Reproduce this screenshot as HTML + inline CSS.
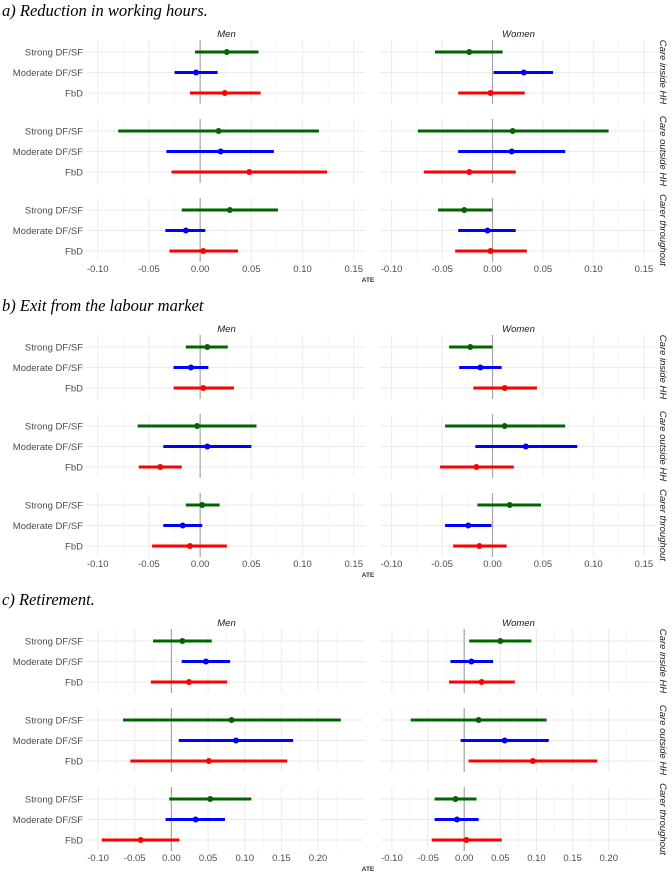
<!DOCTYPE html>
<html><head><meta charset="utf-8">
<style>
html,body{margin:0;padding:0;background:#fff;}
svg text{font-family:"Liberation Sans",sans-serif;}
</style></head>
<body>
<svg id="chart" width="672" height="873" viewBox="0 0 672 873" xmlns="http://www.w3.org/2000/svg"></svg>
<script>
// Data: each panel -> [Men, Women] -> 3 rows (care inside, care outside, carer throughout) -> [Strong, Moderate, FbD]
const categories = ["Strong DF/SF", "Moderate DF/SF", "FbD"];
const rowLabels = ["Care inside HH", "Care outside HH", "Carer throughout"];
const panelTitles = ["a) Reduction in working hours.", "b) Exit from the labour market", "c) Retirement."];
const ticksAB = [-0.10, -0.05, 0.00, 0.05, 0.10, 0.15];
const ticksC = [-0.10, -0.05, 0.00, 0.05, 0.10, 0.15, 0.20];

// Panel a
const aMenLo = [[-0.005,-0.025,-0.010],[-0.080,-0.033,-0.028],[-0.018,-0.034,-0.030]];
const aMenPt = [[0.026,-0.004,0.024],[0.018,0.020,0.048],[0.029,-0.014,0.003]];
const aMenHi = [[0.057,0.017,0.059],[0.116,0.072,0.124],[0.076,0.005,0.037]];
const aWomLo = [[-0.057,0.001,-0.034],[-0.074,-0.034,-0.068],[-0.054,-0.034,-0.037]];
const aWomPt = [[-0.023,0.031,-0.002],[0.020,0.019,-0.023],[-0.028,-0.005,-0.002]];
const aWomHi = [[0.010,0.060,0.032],[0.115,0.072,0.023],[0.000,0.023,0.034]];
// Panel b
const bMenLo = [[-0.014,-0.026,-0.026],[-0.061,-0.036,-0.060],[-0.014,-0.036,-0.047]];
const bMenPt = [[0.007,-0.009,0.003],[-0.003,0.007,-0.039],[0.002,-0.017,-0.010]];
const bMenHi = [[0.027,0.008,0.033],[0.055,0.050,-0.018],[0.019,0.002,0.026]];
const bWomLo = [[-0.043,-0.033,-0.019],[-0.047,-0.017,-0.052],[-0.015,-0.047,-0.039]];
const bWomPt = [[-0.022,-0.012,0.012],[0.012,0.033,-0.016],[0.017,-0.024,-0.013]];
const bWomHi = [[0.000,0.009,0.044],[0.072,0.084,0.021],[0.048,-0.001,0.014]];
// Panel c
const cMenLo = [[-0.025,0.014,-0.028],[-0.066,0.010,-0.056],[-0.003,-0.008,-0.095]];
const cMenPt = [[0.015,0.047,0.024],[0.082,0.088,0.051],[0.053,0.033,-0.042]];
const cMenHi = [[0.055,0.080,0.076],[0.231,0.166,0.158],[0.109,0.073,0.011]];
const cWomLo = [[0.007,-0.019,-0.021],[-0.074,-0.005,0.006],[-0.041,-0.041,-0.045]];
const cWomPt = [[0.050,0.010,0.024],[0.020,0.056,0.095],[-0.012,-0.010,0.003]];
const cWomHi = [[0.093,0.040,0.070],[0.114,0.117,0.184],[0.017,0.020,0.052]];

const colors = ["#006400", "#0000ff", "#ff0000"];
const NS = "http://www.w3.org/2000/svg";
const svg = document.getElementById("chart");
function mk(tag, attrs, parent){
  const e = document.createElementNS(NS, tag);
  for (const k in attrs) e.setAttribute(k, attrs[k]);
  (parent||svg).appendChild(e);
  return e;
}

const panels = [
  {title: panelTitles[0], top: 0, ticks: ticksAB, dom: [-0.1115, 0.161], fmt: 2,
   data: [[aMenLo,aMenPt,aMenHi],[aWomLo,aWomPt,aWomHi]]},
  {title: panelTitles[1], top: 295, ticks: ticksAB, dom: [-0.1115, 0.161], fmt: 2,
   data: [[bMenLo,bMenPt,bMenHi],[bWomLo,bWomPt,bWomHi]]},
  {title: panelTitles[2], top: 589, ticks: ticksC, dom: [-0.1165, 0.264], fmt: 2,
   data: [[cMenLo,cMenPt,cMenHi],[cWomLo,cWomPt,cWomHi]]}
];
const cols = [{x0: 86, x1: 365, label: "Men"}, {x0: 380, x1: 655, label: "Women"}];

panels.forEach((P, pi) => {
  const g = mk("g", {});
  
  
  const t = mk("text", {x: 2, y: P.top + 16, "font-size": 16.5, "font-style": "italic", fill: "#000", style: 'font-family:"Liberation Serif",serif'}, g);
  t.textContent = P.title;
  
  

  cols.forEach((C, ci) => {
    const xs = v => C.x0 + (v - P.dom[0]) / (P.dom[1] - P.dom[0]) * (C.x1 - C.x0);
    const st = mk("text", {x: (C.x0 + C.x1) / 2 + 1, y: P.top + 37, "font-size": 9.5, "font-style": "italic", fill: "#1a1a1a", "text-anchor": "middle"}, g);
    st.textContent = C.label;
    
    

    for (let r = 0; r < 3; r++) {
      const rTop = P.top + 40 + r * 79, rBot = rTop + 64;
      const ys = k => rTop + 12 + k * 20.5;
      const pg = mk("g", {}, g);
      
      
      for (let i = 0; i < P.ticks.length; i++) {
        const m = P.ticks[i] + 0.025;
        if (m < P.dom[1]) mk("line", {x1: xs(m), x2: xs(m), y1: rTop, y2: rBot, stroke: "#f2f2f2", "stroke-width": 0.6}, pg);
        if (i === 0) { const m0 = P.ticks[0] - 0.025; if (m0 > P.dom[0]) mk("line", {x1: xs(m0), x2: xs(m0), y1: rTop, y2: rBot, stroke: "#f2f2f2", "stroke-width": 0.6}, pg); }
      }
      P.ticks.forEach(tv => mk("line", {x1: xs(tv), x2: xs(tv), y1: rTop, y2: rBot, stroke: "#ebebeb", "stroke-width": 1}, pg));
      for (let k = 0; k < 3; k++) mk("line", {x1: C.x0, x2: C.x1, y1: ys(k), y2: ys(k), stroke: "#ebebeb", "stroke-width": 1}, pg);
      mk("line", {x1: xs(0), x2: xs(0), y1: rTop, y2: rBot, stroke: "#a6a6a6", "stroke-width": 1.2}, pg);
      const [LO, PT, HI] = P.data[ci];
      for (let k = 0; k < 3; k++) {
        const ln = mk("line", {x1: xs(LO[r][k]), x2: xs(HI[r][k]), y1: ys(k), y2: ys(k), stroke: colors[k], "stroke-width": 3}, pg);
        
        
        const c = mk("circle", {cx: xs(PT[r][k]), cy: ys(k), r: 3, fill: colors[k]}, pg);
        
        
        if (ci === 0) {
          const yl = mk("text", {x: 83, y: ys(k) + 3.3, "font-size": 9.5, fill: "#4d4d4d", "text-anchor": "end"}, pg);
          yl.textContent = categories[k];
          
          
        }
      }
      if (ci === 1) {
        const cy = (rTop + rBot) / 2;
        const rl = mk("text", {x: 0, y: 0, "font-size": 9.5, "font-style": "italic", fill: "#1a1a1a", "text-anchor": "middle", transform: "translate(660," + cy + ") rotate(90)"}, pg);
        rl.textContent = rowLabels[r];
        
        
      }
    }
    P.ticks.forEach(tv => {
      const tl = mk("text", {x: xs(tv), y: P.top + 272, "font-size": 9.5, fill: "#4d4d4d", "text-anchor": "middle"}, g);
      tl.textContent = tv.toFixed(P.fmt);
      
      
    });
  });
  const at = mk("text", {x: 368, y: P.top + 282, "font-size": 6.5, "font-weight": "bold", fill: "#333", "text-anchor": "middle"}, g);
  at.textContent = "ATE";
  
  
});
</script>
</body></html>
